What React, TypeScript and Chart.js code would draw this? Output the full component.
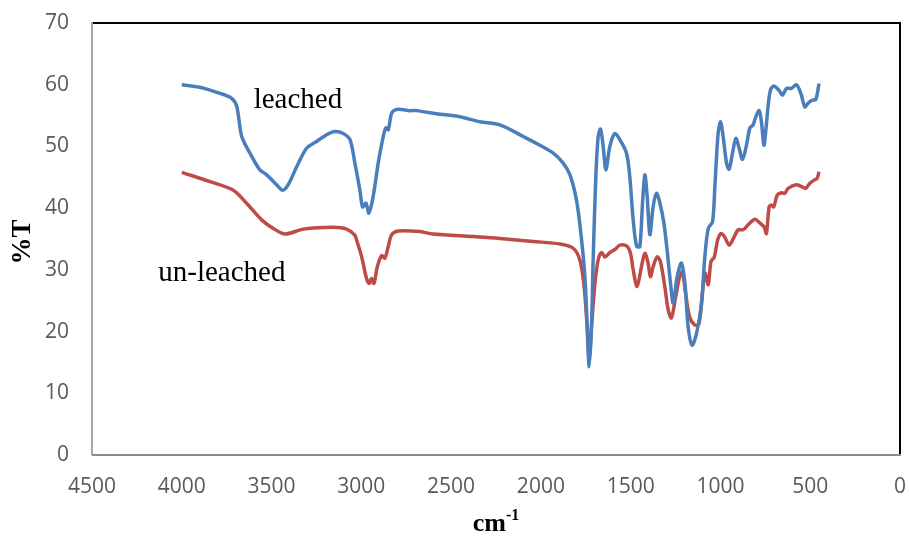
import React, { useEffect, useRef } from "react";
import { Chart, registerables } from "chart.js";

Chart.register(...registerables);

// FTIR spectra: wavenumber (cm-1) and transmittance (%T)
const leachedWavenumbers = [
  4000, 3900, 3787, 3722, 3694, 3666, 3620, 3565, 3527, 3472, 3438, 3407, 3360, 3305, 3249, 3193, 3147,
  3101, 3063, 3036, 3008, 2993, 2974, 2958, 2934, 2906, 2878, 2863, 2850, 2831, 2803, 2729, 2692, 2581,
  2451, 2340, 2228, 2098, 2006, 1931, 1876, 1838, 1801, 1774, 1755, 1742, 1731, 1718, 1709, 1694, 1681,
  1668, 1653, 1638, 1616, 1588, 1560, 1523, 1505, 1486, 1467, 1449, 1434, 1421, 1408, 1393, 1375, 1356,
  1337, 1315, 1297, 1278, 1263, 1241, 1217, 1198, 1180, 1158, 1133, 1105, 1087, 1068, 1044, 1031, 1013,
  999, 985, 966, 952, 933, 914, 896, 877, 855, 836, 818, 803, 784, 771, 758, 747, 734, 721, 703, 684, 669,
  654, 632, 604, 577, 552, 530, 512, 488, 469, 451,
];
const leachedTransmittance = [
  60.0, 59.6, 58.6, 57.8, 56.5, 51.6, 48.9, 46.2, 45.4, 43.8, 42.9, 43.8, 46.7, 49.7, 50.8, 51.9, 52.4,
  52.1, 51.1, 47.3, 42.9, 40.2, 40.8, 39.2, 41.9, 47.3, 51.6, 53.0, 52.7, 55.4, 56.0, 55.8, 55.8, 55.3,
  54.8, 54.0, 53.5, 51.6, 50.2, 48.9, 47.3, 45.4, 41.2, 35.0, 28.9, 20.8, 14.3, 20.8, 31.6, 45.1, 51.6,
  52.8, 50.0, 46.2, 50.0, 52.1, 51.1, 48.9, 45.1, 38.1, 33.8, 33.8, 40.8, 45.4, 41.9, 35.7, 40.2, 42.4,
  40.8, 37.6, 33.2, 27.8, 24.6, 28.9, 31.1, 27.8, 20.8, 17.8, 19.7, 24.6, 32.1, 36.7, 37.8, 43.5, 52.1,
  54.0, 51.6, 47.3, 46.3, 48.9, 51.3, 49.7, 47.9, 50.2, 53.0, 53.5, 54.8, 55.8, 53.8, 50.2, 52.7, 56.7,
  59.2, 59.8, 59.4, 58.9, 58.3, 59.4, 59.4, 60.0, 58.6, 56.4, 57.0, 57.5, 57.6, 60.2,
];

const unleachedWavenumbers = [
  4000, 3843, 3713, 3639, 3555, 3490, 3425, 3323, 3156, 3082, 3036, 3026, 2998, 2971, 2956, 2943, 2930,
  2911, 2887, 2869, 2850, 2831, 2795, 2674, 2600, 2377, 2228, 2043, 1894, 1820, 1783, 1761, 1746, 1731,
  1718, 1699, 1681, 1662, 1644, 1616, 1588, 1560, 1523, 1501, 1486, 1464, 1440, 1421, 1403, 1390, 1375,
  1353, 1334, 1310, 1291, 1273, 1249, 1227, 1212, 1194, 1172, 1144, 1120, 1099, 1086, 1068, 1053, 1034,
  1016, 997, 978, 951, 923, 901, 874, 846, 808, 781, 758, 744, 729, 716, 703, 684, 660, 642, 623, 577,
  549, 525, 503, 475, 462, 451,
];
const unleachedTransmittance = [
  45.8, 44.3, 42.9, 40.8, 38.1, 36.7, 35.8, 36.6, 36.9, 36.6, 35.6, 34.8, 32.1, 28.6, 27.8, 28.6, 27.8,
  30.5, 32.3, 31.9, 33.8, 35.7, 36.3, 36.2, 35.8, 35.4, 35.1, 34.6, 34.2, 33.5, 31.6, 27.8, 22.4, 15.9,
  20.8, 27.8, 31.6, 32.8, 32.1, 32.8, 33.3, 34.0, 33.9, 32.7, 30.0, 27.3, 30.5, 32.7, 31.1, 28.9, 30.5,
  32.1, 31.3, 27.3, 23.5, 22.2, 25.7, 28.9, 29.7, 26.2, 22.4, 21.1, 21.2, 26.7, 29.5, 27.6, 31.3, 32.1,
  34.8, 35.9, 35.4, 34.0, 35.4, 36.5, 36.5, 37.3, 38.2, 37.6, 37.0, 35.9, 40.2, 40.5, 40.2, 42.1, 42.5,
  42.4, 43.2, 43.8, 43.5, 43.2, 44.0, 44.6, 44.8, 45.9,
];

const seriesNames = ["leached", "un-leached"];
const xTicks = [4500, 4000, 3500, 3000, 2500, 2000, 1500, 1000, 500, 0];
const yTicks = [0, 10, 20, 30, 40, 50, 60, 70];
const xTitle = "cm";
const xTitleSup = "-1";
const yTitle = "%T";

// Series label anchors in data coordinates (wavenumber, %T)
const labelAnchors = [
  { x: 3353, y: 57.4 },
  { x: 3777, y: 29.5 },
];

const BLUE = "#4a7ebb";
const RED = "#be4b48";
const SERIF = "'Liberation Serif', 'Times New Roman', serif";
const TICK_FONT = { family: "'Open Sans'", size: 21 };

const toPoints = (xs: number[], ys: number[]) => xs.map((x, i) => ({ x, y: ys[i] }));

// keep the plot area fixed: no extra room for overhanging tick labels
const fixScale = (size: { width?: number; height?: number }) => (s: any) => {
  if (size.width !== undefined) s.width = size.width;
  if (size.height !== undefined) s.height = size.height;
  s.paddingLeft = 0;
  s.paddingRight = 0;
  s.paddingTop = 0;
  s.paddingBottom = 0;
};

const decorPlugin = {
  id: "decor",
  afterDatasetsDraw(chart: any) {
    const { ctx, chartArea, scales } = chart;
    const { left, right, top, bottom } = chartArea;
    ctx.save();
    // plot-area frame
    ctx.strokeStyle = "#000000";
    ctx.lineWidth = 2;
    ctx.beginPath();
    ctx.moveTo(left, top);
    ctx.lineTo(right, top);
    ctx.lineTo(right, bottom);
    ctx.stroke();
    // axis lines
    ctx.strokeStyle = "#a6a6a6";
    ctx.lineWidth = 2;
    ctx.beginPath();
    ctx.moveTo(left, top - 1);
    ctx.lineTo(left, bottom);
    ctx.stroke();
    ctx.strokeStyle = "#8c8c8c";
    ctx.beginPath();
    ctx.moveTo(left, bottom);
    ctx.lineTo(right + 1, bottom);
    ctx.stroke();

    // series labels
    ctx.fillStyle = "#000000";
    ctx.font = `29px ${SERIF}`;
    ctx.textAlign = "center";
    ctx.textBaseline = "middle";
    seriesNames.forEach((name, i) => {
      const a = labelAnchors[i];
      ctx.fillText(name, scales.x.getPixelForValue(a.x), scales.y.getPixelForValue(a.y));
    });

    // y-axis title
    ctx.save();
    ctx.translate(23, (top + bottom) / 2 + 3);
    ctx.rotate(-Math.PI / 2);
    ctx.font = `bold 27px ${SERIF}`;
    ctx.textAlign = "center";
    ctx.textBaseline = "middle";
    ctx.fillText(yTitle, 0, 0);
    ctx.restore();

    // x-axis title with superscript
    ctx.font = `bold 26px ${SERIF}`;
    const w1 = ctx.measureText(xTitle).width;
    ctx.font = `bold 16px ${SERIF}`;
    const w2 = ctx.measureText(xTitleSup).width;
    const cx = (left + right) / 2;
    const x0 = cx - (w1 + w2) / 2;
    const baseY = 531;
    ctx.textAlign = "left";
    ctx.textBaseline = "alphabetic";
    ctx.font = `bold 26px ${SERIF}`;
    ctx.fillText(xTitle, x0, baseY);
    ctx.font = `bold 16px ${SERIF}`;
    ctx.fillText(xTitleSup, x0 + w1, baseY - 11);
    ctx.restore();
  },
};

export default function App() {
  const canvasRef = useRef<HTMLCanvasElement | null>(null);

  useEffect(() => {
    const canvas = canvasRef.current;
    if (!canvas) return;
    const chart = new Chart(canvas, {
      type: "line",
      data: {
        datasets: [
          {
            label: seriesNames[0],
            data: toPoints(leachedWavenumbers, leachedTransmittance),
            borderColor: BLUE,
            borderWidth: 3.5,
            pointRadius: 0,
            tension: 0.3,
            fill: false,
          },
          {
            label: seriesNames[1],
            data: toPoints(unleachedWavenumbers, unleachedTransmittance),
            borderColor: RED,
            borderWidth: 3.5,
            pointRadius: 0,
            tension: 0.3,
            fill: false,
          },
        ],
      },
      options: {
        animation: false,
        responsive: false,
        devicePixelRatio: 1,
        layout: { padding: { top: 23, right: 9, left: 0, bottom: 0 } },
        plugins: { legend: { display: false }, tooltip: { enabled: false } },
        scales: {
          x: {
            type: "linear",
            reverse: true,
            min: 0,
            max: 4500,
            afterFit: fixScale({ height: 81 }),
            afterBuildTicks: (s: any) => {
              s.ticks = xTicks.map((v) => ({ value: v }));
            },
            grid: { display: false, drawTicks: false },
            border: { display: false },
            ticks: {
              padding: 19,
              color: "#595959",
              font: TICK_FONT,
              maxRotation: 0,
              autoSkip: false,
              callback: (v: any) => String(v),
            },
          },
          y: {
            min: 0,
            max: 70,
            afterFit: fixScale({ width: 92 }),
            afterBuildTicks: (s: any) => {
              s.ticks = yTicks.map((v) => ({ value: v }));
            },
            grid: { display: false, drawTicks: false },
            border: { display: false },
            ticks: {
              padding: 23,
              color: "#595959",
              font: TICK_FONT,
              autoSkip: false,
              callback: (v: any) => String(v),
            },
          },
        },
      },
      plugins: [decorPlugin],
    });
    return () => chart.destroy();
  }, []);

  return (
    <div style={{ position: "fixed", left: 0, top: 0, width: 909, height: 536, background: "#ffffff" }}>
      <canvas ref={canvasRef} width={909} height={536} style={{ display: "block" }} />
    </div>
  );
}
